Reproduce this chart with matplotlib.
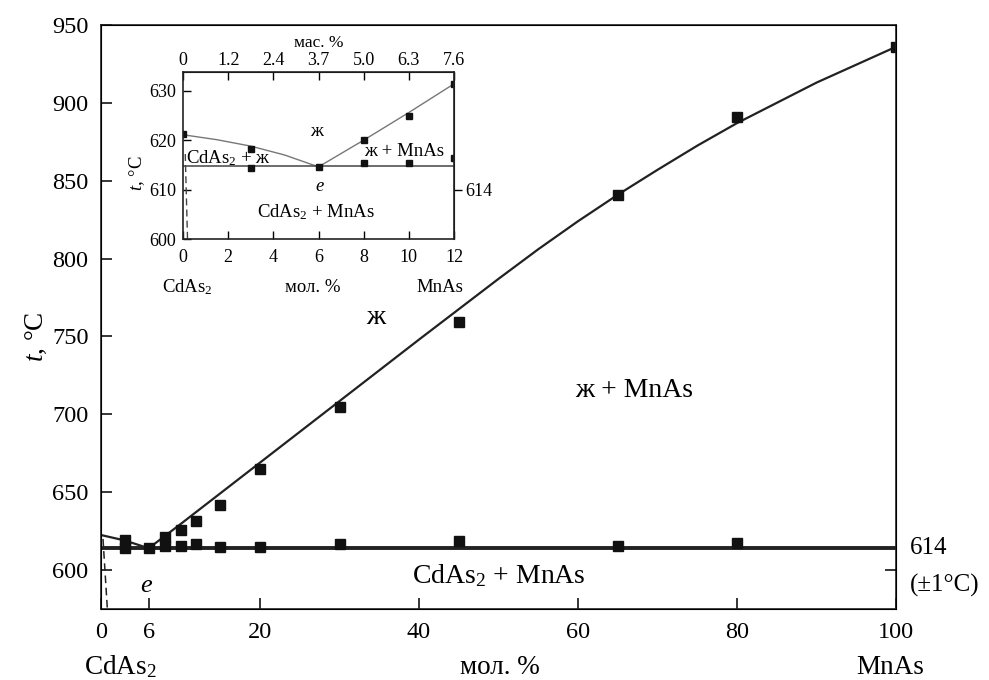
import numpy as np
import matplotlib.pyplot as plt
from matplotlib import transforms

plt.rcParams['font.family'] = ['Liberation Serif', 'DejaVu Serif']
plt.rcParams['mathtext.fontset'] = 'custom'
plt.rcParams['mathtext.rm'] = 'Liberation Serif'
plt.rcParams['mathtext.it'] = 'Liberation Serif:italic'

# main diagram, mol. % MnAs
liq_pts_x = [3, 6, 8, 10, 12, 15, 20, 30, 45, 65, 80, 100]
liq_pts_t = [619, 614, 621, 625.5, 631.5, 642, 665, 705, 759, 841, 891, 936]
sol_pts_x = [3, 8, 10, 12, 15, 20, 30, 45, 65, 80]
sol_pts_t = [614, 615.5, 615.5, 616.5, 615, 615, 616.5, 618.5, 615.5, 617.5]
liq_curve_x = [0, 3, 6, 10, 20, 30, 40, 45, 50, 55, 60, 65, 70, 75, 80, 90, 100]
liq_curve_t = [622.5, 619, 614, 629.5, 669, 708.5, 748, 767.5, 787, 806, 824,
               841, 857, 872.5, 887, 913, 936]
solv_x = [0.25, 0.8]
solv_t = [620, 575]
eut_t = 614
main_xticks = [0, 6, 20, 40, 60, 80, 100]
main_yticks = [600, 650, 700, 750, 800, 850, 900, 950]

# inset, CdAs2-rich side
in_liq_x = [0, 3, 8, 10, 12]
in_liq_t = [621.2, 618.2, 620, 624.8, 631.4]
in_sol_x = [3, 6, 8, 10, 12]
in_sol_t = [614.3, 614.5, 615.4, 615.4, 616.3]
in_curve_x = [0, 1.5, 3, 4.5, 6, 8, 10, 12]
in_curve_t = [621.1, 620.1, 618.8, 617.0, 614.6, 620.0, 625.6, 631.4]
in_solv_x = [0.1, 0.2]
in_solv_t = [617.2, 600]
in_eut_t = 614.7
in_xticks = [0, 2, 4, 6, 8, 10, 12]
in_mass_labels = ['0', '1.2', '2.4', '3.7', '5.0', '6.3', '7.6']
in_yticks = [600, 610, 620, 630]

W, H = 989, 680
fig = plt.figure(figsize=(W / 100, H / 100), dpi=100)


def px(x0, y0, w, h):
    return [x0 / W, 1 - (y0 + h) / H, w / W, h / H]


ax = fig.add_axes(px(101, 25, 795, 584))
ax.set_xlim(0, 100)
ax.set_ylim(575, 950)
ax.plot(liq_curve_x, liq_curve_t, color='#222222', lw=1.6)
ax.axhline(eut_t, color='#222222', lw=2.8)
ax.plot(solv_x, solv_t, color='#222222', lw=1.1, ls=(0, (5, 3)))
ax.plot(liq_pts_x, liq_pts_t, 's', ms=6.5, color='#111111')
ax.plot(sol_pts_x, sol_pts_t, 's', ms=6.5, color='#111111')
ax.set_xticks(main_xticks)
ax.set_yticks(main_yticks)
ax.tick_params(direction='in', length=8, width=1.1, labelsize=17.5, pad=9)
for s in ax.spines.values():
    s.set_linewidth(1.2)
    s.set_color('#222222')

ax_r = ax.twinx()
ax_r.set_ylim(ax.get_ylim())
ax_r.set_yticks([600])
ax_r.set_yticklabels([''])
ax_r.tick_params(direction='in', length=8, width=1.1)

tr = transforms.blended_transform_factory(ax.transAxes, ax.transData)
ax.text(1.017, eut_t, '614', transform=tr, fontsize=18, va='center', ha='left')
ax.text(1.017, 590, '(±1°C)', transform=tr, fontsize=18, va='center', ha='left')

ax.text(34.5, 762, 'ж', fontsize=20, ha='center', va='center')
ax.text(67, 715, 'ж + MnAs', fontsize=20, ha='center', va='center')
ax.text(50, 596.5, 'CdAs$_2$ + MnAs', fontsize=20, ha='center', va='center')
ax.text(5.7, 590, '$e$', fontsize=19, ha='center', va='center')

fig.text(120 / W, 1 - 667 / H, 'CdAs$_2$', fontsize=19.5, ha='center', va='center')
fig.text(500 / W, 1 - 667 / H, 'мол. %', fontsize=19.5, ha='center', va='center')
fig.text(890 / W, 1 - 667 / H, 'MnAs', fontsize=19.5, ha='center', va='center')
fig.text(36 / W, 1 - 337 / H, '$t$, °C', fontsize=19.5, ha='center', va='center',
         rotation=90)

# inset
ins = fig.add_axes(px(183, 72, 271, 167))
ins.set_xlim(0, 12)
ins.set_ylim(600, 633.8)
ins.plot(in_curve_x, in_curve_t, color='#777777', lw=1.0)
ins.axhline(in_eut_t, color='#444444', lw=1.1)
ins.plot(in_solv_x, in_solv_t, color='#444444', lw=1.0, ls=(0, (5, 3)))
ins.plot(in_liq_x, in_liq_t, 's', ms=4, color='#111111')
ins.plot(in_sol_x, in_sol_t, 's', ms=4, color='#111111')
ins.set_xticks(in_xticks)
ins.set_yticks(in_yticks)
ins.tick_params(direction='in', length=6, width=1.0, labelsize=13, pad=7)
ins.tick_params(axis='y', pad=5)
for s in ins.spines.values():
    s.set_linewidth(1.2)
    s.set_color('#222222')

sec = ins.secondary_xaxis('top')
sec.set_xticks(in_xticks)
sec.set_xticklabels(in_mass_labels)
sec.tick_params(direction='in', length=6, width=1.0, labelsize=13, pad=2)
sec.set_xlabel('мас. %', fontsize=12.5, labelpad=4)

sec_r = ins.secondary_yaxis('right')
sec_r.set_yticks([610])
sec_r.set_yticklabels(['614'])
sec_r.tick_params(direction='out', length=6, width=1.0, labelsize=13, pad=2)

ins.text(5.9, 621.8, 'ж', fontsize=13.5, ha='center', va='center')
ins.text(9.8, 617.8, 'ж + MnAs', fontsize=13.5, ha='center', va='center')
ins.text(2.0, 616.3, 'CdAs$_2$ + ж', fontsize=13.5, ha='center', va='center')
ins.text(6.05, 610.6, '$e$', fontsize=13.5, ha='center', va='center')
ins.text(5.9, 605.4, 'CdAs$_2$ + MnAs', fontsize=13.5, ha='center', va='center')

fig.text(187 / W, 1 - 287 / H, 'CdAs$_2$', fontsize=13.5, ha='center', va='center')
fig.text(313 / W, 1 - 287 / H, 'мол. %', fontsize=13.5, ha='center', va='center')
fig.text(440 / W, 1 - 287 / H, 'MnAs', fontsize=13.5, ha='center', va='center')
fig.text(137 / W, 1 - 173 / H, '$t$, °C', fontsize=13.5, ha='center', va='center',
         rotation=90)

fig.savefig('out.png', dpi=100, facecolor='white')
